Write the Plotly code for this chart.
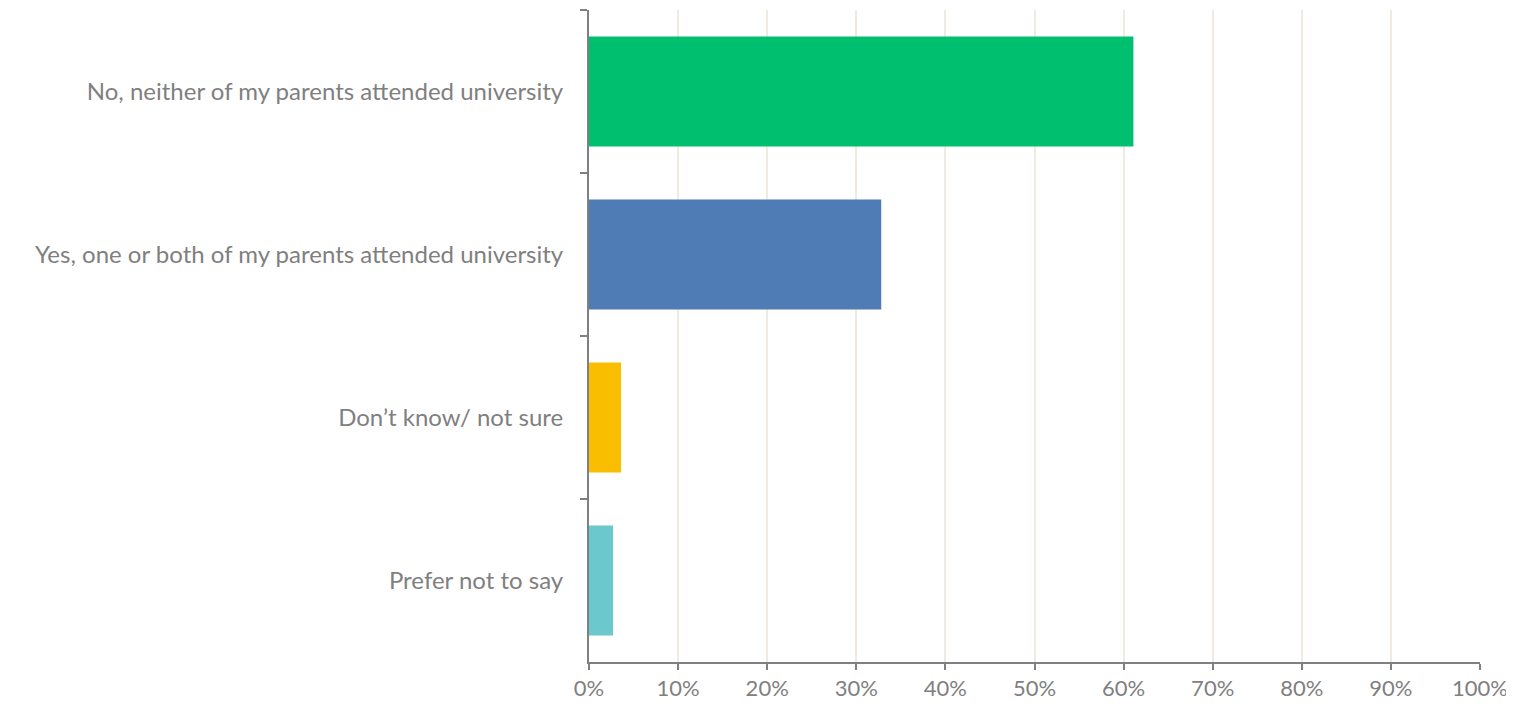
import plotly.graph_objects as go

categories = [
    "No, neither of my parents attended university",
    "Yes, one or both of my parents attended university",
    "Don\u2019t know/ not sure",
    "Prefer not to say",
]
values = [61.1, 32.8, 3.6, 2.7]
colors = ["#00BF6F", "#507CB6", "#F9BE00", "#6BC8CD"]
x_ticks = list(range(0, 101, 10))
x_tick_labels = [f"{v}%" for v in x_ticks]

fig = go.Figure(
    go.Bar(
        x=values,
        y=categories,
        orientation="h",
        marker=dict(color=colors, line=dict(width=0)),
        width=0.675,
        hoverinfo="x+y",
    )
)

FONT = "Lato, Open Sans, sans-serif"
fig.update_layout(
    width=1506,
    height=693,
    margin=dict(l=581, r=34, t=2, b=39, autoexpand=False),
    plot_bgcolor="white",
    paper_bgcolor="white",
    font=dict(family=FONT, size=24, color="#7F7F7F"),
    showlegend=False,
)
fig.update_xaxes(
    range=[0, 100],
    tickvals=x_ticks,
    ticktext=x_tick_labels,
    showgrid=True,
    gridcolor="#EFEBE1",
    gridwidth=1.5,
    showline=True,
    linecolor="#808080",
    linewidth=2,
    ticks="outside",
    ticklen=6,
    tickwidth=2,
    tickcolor="#808080",
    zeroline=False,
    automargin=False,
    ticklabeloverflow="allow",
    tickfont=dict(family=FONT, size=22, color="#7F7F7F"),
)
fig.update_yaxes(
    categoryorder="array",
    categoryarray=categories,
    autorange="reversed",
    showline=True,
    linecolor="#808080",
    linewidth=2,
    ticks="outside",
    tickson="boundaries",
    ticklen=7,
    tickwidth=2,
    tickcolor="#808080",
    showgrid=False,
    automargin=False,
    ticklabelstandoff=19,
    tickfont=dict(family=FONT, size=24, color="#7F7F7F"),
)

fig.write_html("out.html")
